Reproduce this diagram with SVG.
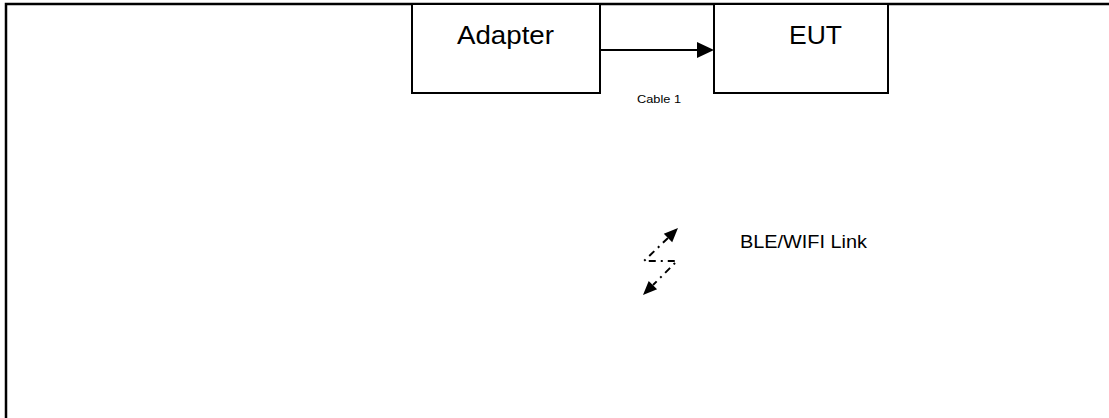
<svg xmlns="http://www.w3.org/2000/svg" width="1109" height="418" viewBox="0 0 1109 418">
<defs>
<style>
.box{fill:#fff;stroke:#000;stroke-width:2}
.lbl{font-family:"Liberation Sans",Arial,sans-serif;fill:#000}
.conn{fill:none;stroke:#000;stroke-width:2}
.wl{fill:none;stroke:#000;stroke-width:2;stroke-dasharray:7 5 2 5}
.head{fill:#000}
</style>
</defs>
<rect width="1109" height="418" fill="#fff"/>
<g id="frame">
<path d="M6,430 L6,4 L1120,4" fill="none" stroke="#000" stroke-width="2.5"/>
</g>
<g id="adapter">
<rect class="box" x="412" y="4" width="188" height="89"/>
<text class="lbl" x="457" y="44" font-size="26" textLength="97" lengthAdjust="spacingAndGlyphs">Adapter</text>
</g>
<g id="eut">
<rect class="box" x="714" y="4" width="174" height="89"/>
<text class="lbl" x="789" y="44" font-size="26" textLength="53" lengthAdjust="spacingAndGlyphs">EUT</text>
</g>
<g id="connectors">
<line class="conn" x1="600" y1="50" x2="700" y2="50"/>
<path class="head" d="M697,42 L714,50 L697,58 z"/>
<text class="lbl" x="637" y="103" font-size="11" textLength="44" lengthAdjust="spacingAndGlyphs">Cable 1</text>
<path class="wl" d="M668,238 L644,261 L677,261 L653,285"/>
<path class="head" d="M678,228 L663.8,233.7 L672.2,242.3 z"/>
<path class="head" d="M643,295 L648.7,280.9 L657.1,289.3 z"/>
</g>
<g id="link-label">
<text class="lbl" x="740" y="248" font-size="18" textLength="127" lengthAdjust="spacingAndGlyphs">BLE/WIFI Link</text>
</g>
</svg>
